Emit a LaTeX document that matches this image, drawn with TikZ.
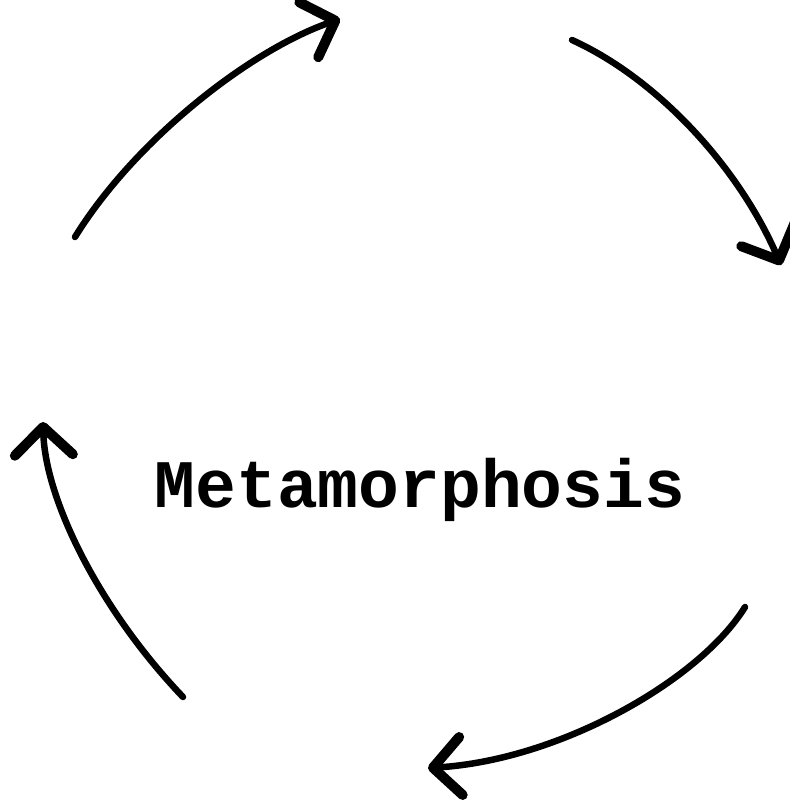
\documentclass[tikz,border=0pt]{standalone}
\usepackage{fontspec}
\newfontfamily\monofont{Liberation Mono}
\usetikzlibrary{arrows.meta}
\begin{document}
\begin{tikzpicture}[x=1pt,y=-1pt,
  cyc/.style={line width=6.5pt, line cap=round,
    -{Straight Barb[length=28pt,width=58pt,line width=10pt,round]}},
  lbl/.style={font=\monofont\bfseries\fontsize{68}{70}\selectfont, inner sep=0pt}]
\useasboundingbox (0,0) rectangle (789,802);
\node[lbl] (title) at (420,490) {Metamorphosis};
\coordinate (a1) at (75,237);  \coordinate (b1) at (340,19);
\coordinate (a2) at (572,40);  \coordinate (b2) at (781,265);
\coordinate (a3) at (745,607); \coordinate (b3) at (428,768);
\coordinate (a4) at (183,697); \coordinate (b4) at (43,422);
\draw[cyc] (a1) .. controls (135,140) and (250,50) .. (b1);
\draw[cyc] (a2) .. controls (660,80) and (740,170) .. (b2);
\draw[cyc] (a3) .. controls (700,680) and (560,760) .. (b3);
\draw[cyc] (a4) .. controls (100,610) and (45,500) .. (b4);
\end{tikzpicture}
\end{document}
